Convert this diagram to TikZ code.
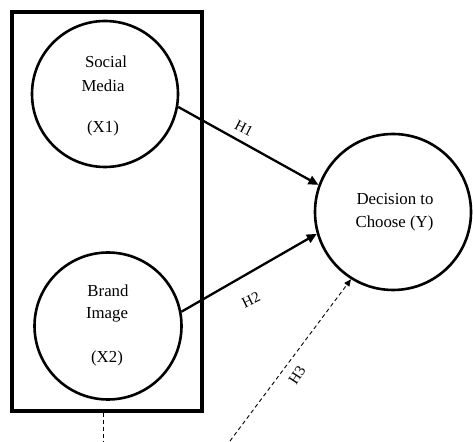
\documentclass[tikz,border=0pt]{standalone}
\usepackage{fontspec}
\setmainfont{Liberation Serif}
\usetikzlibrary{arrows.meta}
\tikzset{
  bubble/.style={circle, draw, line width=2.6pt, inner sep=0pt},
  lbl/.style={font=\fontsize{16.8}{19}\selectfont, inner sep=0pt, anchor=base},
  hyp/.style={font=\fontsize{15}{17}\selectfont, inner sep=0pt},
  solidarrow/.style={line width=2.3pt, -{Triangle[length=10pt,width=9pt]}},
  dasharrow/.style={line width=0.9pt, dash pattern=on 4pt off 3pt, -{Triangle[length=7pt,width=6pt]}},
  dashline/.style={line width=0.9pt, dash pattern=on 4pt off 3pt}
}
\begin{document}
\begin{tikzpicture}[x=1pt,y=1pt]
\useasboundingbox (0,0) rectangle (473,441);
\node[draw, line width=3.4pt, minimum width=190pt, minimum height=399pt, inner sep=0pt] (box) at (107,229.5) {};
\node[bubble, minimum size=146pt] (sm) at (105,347) {};
\node[bubble, minimum size=147pt] (bi) at (108,115) {};
\node[bubble, minimum size=156pt] (dc) at (393,229) {};
% texts
\node[lbl] (t1) at (106,373) {Social};
\node[lbl] (t2) at (103,349) {Media};
\node[lbl] (t3) at (103,308) {(X1)};
\node[lbl] (t4) at (108,144) {Brand};
\node[lbl] (t5) at (107,122) {Image};
\node[lbl] (t6) at (107,78) {(X2)};
\node[lbl] (t7) at (395,236) {Decision to};
\node[lbl] (t8) at (394.5,213) {Choose (Y)};
% connectors
\draw[solidarrow] (sm.-10) -- (dc.160);
\draw[solidarrow] (bi.11) -- (dc.196);
\coordinate (h3s) at (230,0);
\draw[dasharrow] (h3s) -- (dc.238);
\coordinate (vd) at (103,0);
\draw[dashline] (vd |- box.south) -- (vd);
% labels
\node[hyp, rotate=-27] (h1) at (244,313) {H1};
\node[hyp, rotate=26] (h2) at (251,141) {H2};
\node[hyp, rotate=57] (h3) at (297,66) {H3};
\end{tikzpicture}
\end{document}
